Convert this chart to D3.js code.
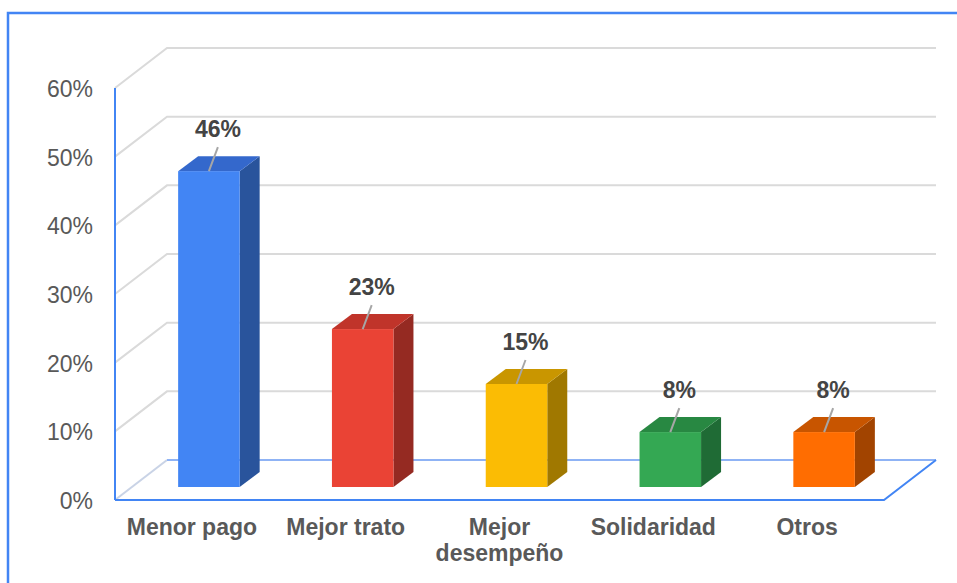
<!DOCTYPE html>
<html>
<head>
<meta charset="utf-8">
<script src="https://cdn.jsdelivr.net/npm/d3@7"></script>
<style>
  body { margin: 0; background: #fff; }
  text { font-family: "Liberation Sans", Arial, sans-serif; }
</style>
</head>
<body>
<div id="chart"></div>
<script>
  // data
  var categories = ["Menor pago", "Mejor trato", "Mejor desempeño", "Solidaridad", "Otros"];
  var values = [0.46, 0.23, 0.15, 0.08, 0.08];
  var valueLabels = ["46%", "23%", "15%", "8%", "8%"];
  var tickValues = [0, 0.1, 0.2, 0.3, 0.4, 0.5, 0.6];
  var frontColors = ["#4285f4", "#ea4335", "#fbbc04", "#34a853", "#ff6d01"];
  var sideColors = ["#29549c", "#952a22", "#a07800", "#1f6b35", "#a24400"];
  var topColors = ["#3468cc", "#c0342a", "#c99600", "#288842", "#c85500"];

  // geometry
  var outerWidth = 957,
      outerHeight = 583,
      x0 = 115, x1 = 884,
      floorY = 500,
      depthX = 52, depthY = -40,        // floor depth
      barOffX = 17, barOffY = -13,      // bar front plane inside floor
      barDX = 20, barDY = -15;          // bar depth

  var svg = d3.select("#chart").append("svg")
      .attr("width", outerWidth)
      .attr("height", outerHeight);

  var x = d3.scaleBand()
      .domain(categories)
      .range([x0, x1])
      .paddingInner(0.6)
      .paddingOuter(0.3);

  var xc = d3.scaleBand()
      .domain(categories)
      .range([x0, x1]);

  var y = d3.scaleLinear()
      .domain([0, 0.6])
      .range([floorY, 88]);

  // frame
  svg.append("path")
      .attr("d", "M8," + outerHeight + "V13H" + outerWidth)
      .attr("fill", "none")
      .attr("stroke", "#4285f4")
      .attr("stroke-width", 2.5);

  // gridlines
  var grid = svg.append("g");
  tickValues.forEach(function(t) {
    if (t === 0) return;
    var yy = y(t);
    grid.append("path")
        .attr("d", "M" + x0 + "," + yy + "L" + (x0 + depthX) + "," + (yy + depthY) + "H" + 936)
        .attr("fill", "none")
        .attr("stroke", "#dadada")
        .attr("stroke-width", 2);
  });

  // floor
  grid.append("path")
      .attr("d", "M" + x0 + "," + floorY + "L" + (x0 + depthX) + "," + (floorY + depthY))
      .attr("stroke", "#c9d3e6")
      .attr("stroke-width", 2);
  grid.append("path")
      .attr("d", "M" + (x0 + depthX) + "," + (floorY + depthY) + "H" + (x1 + depthX))
      .attr("stroke", "#8fb3f5")
      .attr("stroke-width", 2);
  grid.append("path")
      .attr("d", "M" + x0 + "," + floorY + "H" + x1 + "L" + (x1 + depthX) + "," + (floorY + depthY))
      .attr("fill", "none")
      .attr("stroke", "#4285f4")
      .attr("stroke-width", 2);
  grid.append("path")
      .attr("d", "M" + x0 + "," + floorY + "V" + y(0.6))
      .attr("stroke", "#4285f4")
      .attr("stroke-width", 2);

  // tick labels
  svg.append("g").selectAll("text")
      .data(tickValues)
      .join("text")
      .attr("x", 93)
      .attr("y", function(d) { return y(d) + 9; })
      .attr("text-anchor", "end")
      .attr("font-size", 23)
      .attr("fill", "#595959")
      .text(function(d) { return d3.format(".0%")(d); });

  // bars
  var bars = svg.append("g").selectAll("g")
      .data(values)
      .join("g");

  function bx(i) { return x(categories[i]) + barOffX; }
  function by(d) { return y(d) + barOffY; }

  bars.append("path")
      .attr("fill", function(d, i) { return sideColors[i]; })
      .attr("d", function(d, i) {
        var r = bx(i) + x.bandwidth(), b = floorY + barOffY, t = by(d);
        return "M" + r + "," + b + "L" + (r + barDX) + "," + (b + barDY) +
               "L" + (r + barDX) + "," + (t + barDY) + "L" + r + "," + t + "Z";
      });

  bars.append("path")
      .attr("fill", function(d, i) { return topColors[i]; })
      .attr("d", function(d, i) {
        var l = bx(i), r = l + x.bandwidth(), t = by(d);
        return "M" + l + "," + t + "L" + (l + barDX) + "," + (t + barDY) +
               "L" + (r + barDX) + "," + (t + barDY) + "L" + r + "," + t + "Z";
      });

  bars.append("rect")
      .attr("x", function(d, i) { return bx(i); })
      .attr("y", function(d) { return by(d); })
      .attr("width", x.bandwidth())
      .attr("height", function(d) { return floorY + barOffY - by(d); })
      .attr("fill", function(d, i) { return frontColors[i]; });

  // leader lines and value labels
  bars.append("line")
      .attr("x1", function(d, i) { return bx(i) + x.bandwidth() / 2; })
      .attr("y1", function(d) { return by(d); })
      .attr("x2", function(d, i) { return bx(i) + x.bandwidth() / 2 + 9; })
      .attr("y2", function(d) { return by(d) - 24; })
      .attr("stroke", "#a6a6a6")
      .attr("stroke-width", 2);

  bars.append("text")
      .attr("x", function(d, i) { return bx(i) + x.bandwidth() / 2 + 9; })
      .attr("y", function(d) { return by(d) - 34; })
      .attr("text-anchor", "middle")
      .attr("font-size", 23)
      .attr("font-weight", "bold")
      .attr("fill", "#444")
      .text(function(d, i) { return valueLabels[i]; });

  // category labels
  var wrapped = {"Mejor desempeño": ["Mejor", "desempeño"]};
  svg.append("g").selectAll("text")
      .data(categories)
      .join("text")
      .attr("x", function(d) { return xc(d) + xc.bandwidth() / 2; })
      .attr("y", 535)
      .attr("text-anchor", "middle")
      .attr("font-size", 23)
      .attr("font-weight", "bold")
      .attr("fill", "#595959")
      .each(function(d) {
        var lines = wrapped[d] || [d];
        var el = d3.select(this);
        lines.forEach(function(s, k) {
          el.append("tspan")
              .attr("x", xc(d) + xc.bandwidth() / 2)
              .attr("dy", k === 0 ? 0 : 26)
              .text(s);
        });
      });
</script>
</body>
</html>
